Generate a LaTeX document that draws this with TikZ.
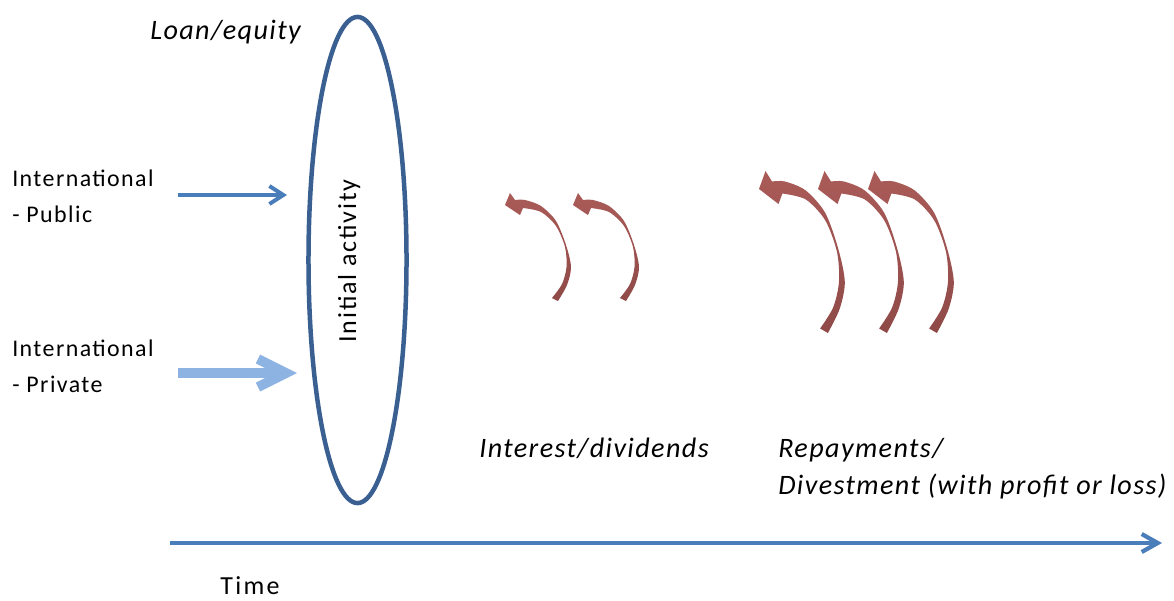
\documentclass[tikz,border=0pt]{standalone}
\usepackage{fontspec}
\setmainfont{Carlito}
\usetikzlibrary{shapes.geometric}
\usetikzlibrary{arrows.meta}
\definecolor{EllBlue}{HTML}{3A6092}
\definecolor{FlowBlue}{HTML}{4A7EBB}
\definecolor{PaleBlue}{HTML}{8DB3E2}
\definecolor{BackRed}{HTML}{A3524F}
\definecolor{BackTop}{HTML}{AA5B58}
\definecolor{BackLow}{HTML}{8F4A48}

\tikzset{
  lbl/.style = {inner sep = 0pt, anchor = base west, align = left},
  srcfont/.style = {font = \fontsize{17}{24.9}\selectfont\addfontfeature{LetterSpace=6}},
  itfont/.style = {font = \fontsize{20}{26.3}\selectfont\itshape\addfontfeature{LetterSpace=5}},
  payback/.pic = {
    \shade[top color = BackTop, middle color = BackRed!55, bottom color = BackLow]
      (0,0) -- (5,-12) -- (10,-5)
      -- plot[smooth] coordinates {(10,-5) (20,-5) (36,1) (51,16) (61,40) (66,62) (62,80) (53,96)}
      -- plot[smooth] coordinates {(47,93) (57,79) (61.5,62) (60,42) (51,21) (36,7) (18,3)}
      -- (15,10) -- cycle;
  }
}

\begin{document}
\begin{tikzpicture}[x = .025cm, y = -.025cm]
  \useasboundingbox (0,0) rectangle (1174,600);

  % the investment itself
  \node[ellipse, draw = EllBlue, line width = 3.2pt,
    minimum width = 2.45cm, minimum height = 12.15cm] (act) at (357.5,260) {};
  \node[rotate = 90, anchor = base, inner sep = 0pt,
    font = \fontsize{18.5}{20}\selectfont\addfontfeature{LetterSpace=7}] (actlbl) at (356,261) {Initial activity};

  \node[lbl, itfont] (loan) at (150,39) {Loan/equity};

  % sources
  \node[lbl, srcfont] (pub) at (12,222) {International\\- Public};
  \node[lbl, srcfont] (priv) at (12,392) {International\\- Private};

  \coordinate (pubA) at (178,195);
  \coordinate (pubB) at (287,195);
  \coordinate (privA) at (178,373);
  \coordinate (privB) at (297,373);

  \draw[FlowBlue, line width = 2.8pt, -{Straight Barb[length = 3.5mm, width = 4.5mm]}]
    (pubA) -- (pubB);
  \draw[PaleBlue, line width = 7pt, -{Straight Barb[length = 7mm, width = 7mm]}]
    (privA) -- (privB);

  % flows back
  \pic at (505,205) {payback};
  \pic at (573,205) {payback};
  \pic[xscale = 1.3, yscale = 1.5] at (759,189) {payback};
  \pic[xscale = 1.3, yscale = 1.5] at (818,189) {payback};
  \pic[xscale = 1.3, yscale = 1.5] at (868,189) {payback};

  \node[lbl, itfont] (intr) at (479,457) {Interest/dividends};
  \node[lbl, itfont] (repay) at (778,494)
    {Repayments/\\Divestment (with profit or loss)};

  % time axis
  \coordinate (t0) at (170,543);
  \coordinate (t1) at (1162,543);
  \draw[FlowBlue, line width = 3pt, -{Straight Barb[length = 4mm, width = 4.5mm]}]
    (t0) -- (t1);
  \node[lbl, font = \fontsize{18.5}{20}\selectfont\addfontfeature{LetterSpace=9}] (time) at (220,594) {Time};
\end{tikzpicture}
\end{document}
